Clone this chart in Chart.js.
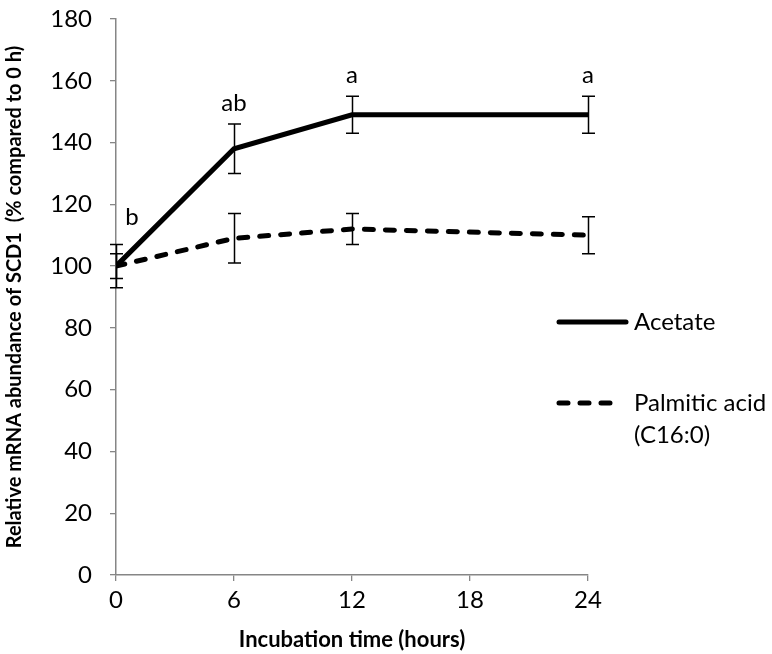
<!DOCTYPE html>
<html>
<head>
<meta charset="utf-8">
<script src="https://cdn.jsdelivr.net/npm/chart.js@4"></script>
<style>
  html, body { margin: 0; padding: 0; background: #fff; }
  #wrap { width: 772px; height: 654px; }
</style>
</head>
<body>
<div id="wrap"><canvas id="scdChart"></canvas></div>
<script>
const hours = [0, 6, 12, 24];
const acetate = [100, 138, 149, 149];
const acetateErr = [7, 8, 6, 6];
const palmitic = [100, 109, 112, 110];
const palmiticErr = [4, 8, 5, 6];
const sigLetters = ['b', 'ab', 'a', 'a'];
const xTicks = [0, 6, 12, 18, 24];

const FONT = 'Lato, "Open Sans", sans-serif';
const AXIS_GREY = '#868686';

const errorBars = {
    id: 'errorBars',
    afterDatasetsDraw(chart) {
        const { ctx, scales: { x, y } } = chart;
        ctx.save();
        ctx.strokeStyle = '#000';
        ctx.lineWidth = 1.5;
        chart.data.datasets.forEach(ds => {
            ds.data.forEach((pt, i) => {
                const e = ds.errors[i];
                const px = Math.round(x.getPixelForValue(pt.x)) + 0.5;
                const top = y.getPixelForValue(pt.y + e);
                const bot = y.getPixelForValue(pt.y - e);
                ctx.beginPath();
                ctx.moveTo(px, top); ctx.lineTo(px, bot);
                ctx.moveTo(px - 6.5, top); ctx.lineTo(px + 6.5, top);
                ctx.moveTo(px - 6.5, bot); ctx.lineTo(px + 6.5, bot);
                ctx.stroke();
            });
        });
        // significance letters above the acetate bars
        ctx.fillStyle = '#000';
        ctx.font = '24px ' + FONT;
        ctx.textAlign = 'center';
        ctx.textBaseline = 'alphabetic';
        sigLetters.forEach((s, i) => {
            const px = x.getPixelForValue(hours[i]);
            const top = y.getPixelForValue(acetate[i] + acetateErr[i]);
            const first = i === 0;
            ctx.fillText(s, px + (first ? 16 : 0), top - (first ? 19 : 13));
        });
        ctx.restore();
    }
};

const sideLegend = {
    id: 'sideLegend',
    afterDraw(chart) {
        const { ctx } = chart;
        const rows = [322, 403];
        ctx.save();
        ctx.font = '24px ' + FONT;
        ctx.fillStyle = '#000';
        ctx.textBaseline = 'middle';
        chart.data.datasets.forEach((ds, i) => {
            const yy = rows[i];
            ctx.strokeStyle = '#000';
            ctx.lineWidth = 5;
            ctx.lineCap = 'round';
            ctx.setLineDash(ds.borderDash || []);
            ctx.beginPath();
            ctx.moveTo(559, yy);
            ctx.lineTo(i === 0 ? 626 : 616, yy);
            ctx.stroke();
            ctx.setLineDash([]);
            const lines = Array.isArray(ds.label) ? ds.label : [ds.label];
            lines.forEach((t, k) => ctx.fillText(t, 634, yy + k * 32));
        });
        ctx.restore();
    }
};

new Chart(document.getElementById('scdChart'), {
    type: 'line',
    data: {
        datasets: [
            {
                label: 'Acetate',
                data: hours.map((h, i) => ({ x: h, y: acetate[i] })),
                errors: acetateErr,
                borderColor: '#000',
                borderWidth: 5,
                pointRadius: 0,
                tension: 0
            },
            {
                label: ['Palmitic acid', '(C16:0)'],
                data: hours.map((h, i) => ({ x: h, y: palmitic[i] })),
                errors: palmiticErr,
                borderColor: '#000',
                borderWidth: 5,
                borderDash: [9, 12],
                borderCapStyle: 'round',
                pointRadius: 0,
                tension: 0
            }
        ]
    },
    options: {
        responsive: true,
        maintainAspectRatio: false,
        animation: false,
        layout: { padding: { left: 0, top: 19, right: 184, bottom: 0 } },
        plugins: { legend: { display: false }, tooltip: { enabled: false } },
        scales: {
            x: {
                type: 'linear',
                min: 0,
                max: 24,
                afterFit: s => { s.height = 79; s.paddingLeft = 0; s.paddingRight = 0; },
                afterBuildTicks: s => { s.ticks = xTicks.map(v => ({ value: v })); },
                ticks: { color: '#000', font: { family: FONT, size: 24 }, padding: 5, maxRotation: 0 },
                grid: { drawOnChartArea: false, drawTicks: true, tickLength: 6, color: AXIS_GREY, lineWidth: 1.3 },
                border: { color: AXIS_GREY, width: 1.5 },
                title: {
                    display: true,
                    text: 'Incubation time (hours)',
                    color: '#000',
                    font: { family: FONT, size: 22, weight: 'bold' },
                    padding: { top: 0, bottom: 1 }
                }
            },
            y: {
                min: 0,
                max: 180,
                afterFit: s => { s.width = 116; s.paddingTop = 0; s.paddingBottom = 0; },
                ticks: { stepSize: 20, color: '#000', font: { family: FONT, size: 24 }, padding: 18 },
                grid: { drawOnChartArea: false, drawTicks: true, tickLength: 6, color: AXIS_GREY, lineWidth: 1.3 },
                border: { color: AXIS_GREY, width: 1.5 },
                title: {
                    display: true,
                    text: 'Relative mRNA abundance of SCD1  (% compared to 0 h)',
                    color: '#000',
                    font: { family: FONT, size: 20, weight: 'bold' },
                    padding: { top: 3, bottom: 0 }
                }
            }
        }
    },
    plugins: [errorBars, sideLegend]
});
</script>
</body>
</html>
